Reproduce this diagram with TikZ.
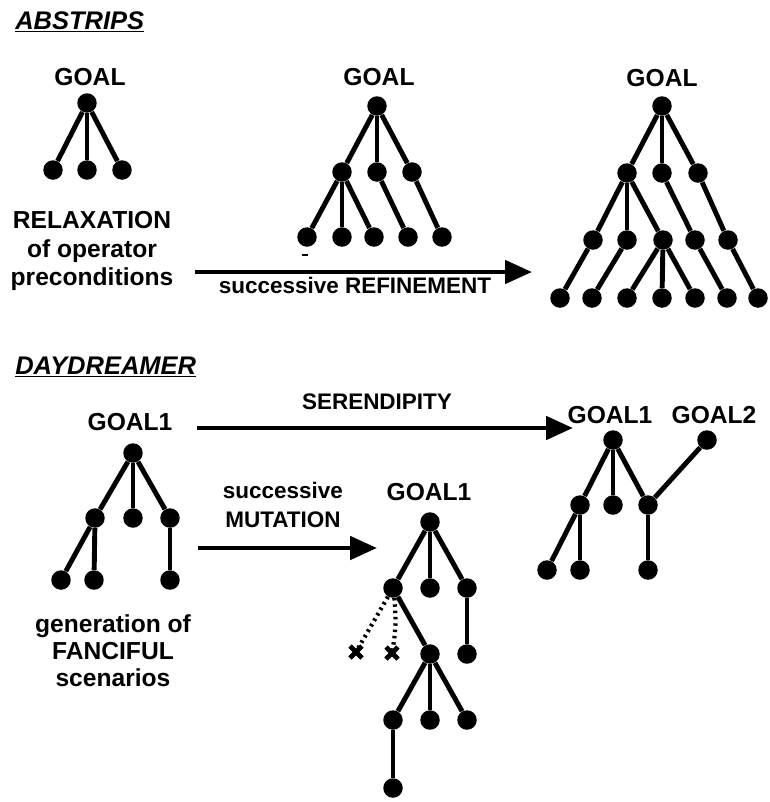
\documentclass[tikz,border=0pt]{standalone}
\usepackage{fontspec}
\setmainfont{Liberation Sans}
\usetikzlibrary{arrows.meta, calc}

\begin{document}
\begin{tikzpicture}[x=0.02cm, y=-0.02cm,
  vertex/.style={circle, fill=black, inner sep=0pt, minimum size=0.39cm},
  link/.style={line width=2.8pt},
  arrow/.style={line width=2.8pt, -{Triangle[length=0.54cm, width=0.46cm]}},
  dream/.style={line width=2.4pt, dash pattern=on 1.4pt off 2.2pt},
  goal/.style={font=\fontsize{14}{16}\selectfont\bfseries, inner sep=0pt},
  caption/.style={align=center, inner sep=0pt},
  title/.style={anchor=west, inner sep=0pt, font=\fontsize{14.5}{17}\selectfont\bfseries\itshape}
]
  \useasboundingbox (0,0) rectangle (770,802);

  % ABSTRIPS
  \node[title] (abstrips) at (15,22) {\underline{ABSTRIPS}};

  % Relaxed tree
  \node[goal] (agoal) at (90,77) {GOAL};
  \node[vertex] (a0) at (87,103) {};
  \node[vertex] (a1) at (53,170) {};
  \node[vertex] (a2) at (87,170) {};
  \node[vertex] (a3) at (122,170) {};
  \draw[link] (a0) -- (a1);
  \draw[link] (a0) -- (a2);
  \draw[link] (a0) -- (a3);
  \node[caption, font=\fontsize{14}{16.2}\selectfont\bfseries] (relax) at (92,251)
    {RELAXATION\\of operator\\preconditions};

  % Refined tree
  \node[goal] (bgoal) at (379,77) {GOAL};
  \node[vertex] (b0) at (377,106) {};
  \node[vertex] (b1) at (342,172) {};
  \node[vertex] (b2) at (377,172) {};
  \node[vertex] (b3) at (412,172) {};
  \node[vertex] (b4) at (307,237) {};
  \node[vertex] (b5) at (342,237) {};
  \node[vertex] (b6) at (374,237) {};
  \node[vertex] (b7) at (408,237) {};
  \node[vertex] (b8) at (442,237) {};
  \draw[link] (b0) -- (b1);
  \draw[link] (b0) -- (b2);
  \draw[link] (b0) -- (b3);
  \draw[link] (b1) -- (b4);
  \draw[link] (b1) -- (b5);
  \draw[link] (b1) -- (b6);
  \draw[link] (b2) -- (b7);
  \draw[link] (b3) -- (b8);
  \draw[line width=1pt] (302,255) -- (308,255);

  % Full tree
  \node[goal] (cgoal) at (662,78) {GOAL};
  \node[vertex] (c0) at (662,106) {};
  \node[vertex] (c1) at (627,173) {};
  \node[vertex] (c2) at (662,173) {};
  \node[vertex] (c3) at (698,173) {};
  \node[vertex] (c4) at (593,240) {};
  \node[vertex] (c5) at (627,240) {};
  \node[vertex] (c6) at (663,240) {};
  \node[vertex] (c7) at (695,240) {};
  \node[vertex] (c8) at (728,240) {};
  \node[vertex] (c9) at (560,298) {};
  \node[vertex] (c10) at (592,298) {};
  \node[vertex] (c11) at (627,298) {};
  \node[vertex] (c12) at (662,298) {};
  \node[vertex] (c13) at (695,298) {};
  \node[vertex] (c14) at (727,298) {};
  \node[vertex] (c15) at (758,298) {};
  \draw[link] (c0) -- (c1);
  \draw[link] (c0) -- (c2);
  \draw[link] (c0) -- (c3);
  \draw[link] (c1) -- (c4);
  \draw[link] (c1) -- (c5);
  \draw[link] (c1) -- (c6);
  \draw[link] (c2) -- (c7);
  \draw[link] (c3) -- (c8);
  \draw[link] (c4) -- (c9);
  \draw[link] (c5) -- (c10);
  \draw[link] (c6) -- (c11);
  \draw[link] (c6) -- (c12);
  \draw[link] (c6) -- (c13);
  \draw[link] (c7) -- (c14);
  \draw[link] (c8) -- (c15);

  % Refinement arrow
  \coordinate (r0) at (195,272);
  \coordinate (r1) at (532,272);
  \draw[arrow] (r0) -- (r1);
  \node[caption, font=\fontsize{12.8}{15}\selectfont\bfseries] (refine) at (355,285) {successive REFINEMENT};

  % DAYDREAMER
  \node[title] (daydreamer) at (15,367) {\underline{DAYDREAMER}};

  % Fanciful tree
  \node[goal] (dgoal) at (130,422) {GOAL1};
  \node[vertex] (d0) at (133,453) {};
  \node[vertex] (d1) at (95,518) {};
  \node[vertex] (d2) at (133,518) {};
  \node[vertex] (d3) at (170,518) {};
  \node[vertex] (d4) at (61,580) {};
  \node[vertex] (d5) at (94,580) {};
  \node[vertex] (d6) at (170,580) {};
  \draw[link] (d0) -- (d1);
  \draw[link] (d0) -- (d2);
  \draw[link] (d0) -- (d3);
  \draw[link] (d1) -- (d4);
  \draw[link] (d1) -- (d5);
  \draw[link] (d3) -- (d6);
  \node[caption, font=\fontsize{14}{15.3}\selectfont\bfseries] (fanciful) at (113,651)
    {generation of\\FANCIFUL\\scenarios};

  % Serendipity arrow
  \coordinate (s0) at (197,428);
  \coordinate (s1) at (573,428);
  \draw[arrow] (s0) -- (s1);
  \node[caption, font=\fontsize{12.8}{15}\selectfont\bfseries] (serendipity) at (377,402) {SERENDIPITY};

  % Mutation arrow
  \coordinate (m0) at (198,548);
  \coordinate (m1) at (377,548);
  \draw[arrow] (m0) -- (m1);
  \node[caption, font=\fontsize{12.8}{17}\selectfont\bfseries] (mutation) at (283,505) {successive\\MUTATION};

  % Mutated tree
  \node[goal] (egoal) at (429,492) {GOAL1};
  \node[vertex] (e0) at (430,522) {};
  \node[vertex] (e1) at (393,588) {};
  \node[vertex] (e2) at (430,588) {};
  \node[vertex] (e3) at (467,588) {};
  \node[vertex] (e4) at (430,654) {};
  \node[vertex] (e5) at (467,654) {};
  \node[vertex] (e6) at (393,720) {};
  \node[vertex] (e7) at (430,720) {};
  \node[vertex] (e8) at (467,720) {};
  \node[vertex] (e9) at (393,788) {};
  \draw[link] (e0) -- (e1);
  \draw[link] (e0) -- (e2);
  \draw[link] (e0) -- (e3);
  \draw[link] (e1) -- (e4);
  \draw[link] (e3) -- (e5);
  \draw[link] (e4) -- (e6);
  \draw[link] (e4) -- (e7);
  \draw[link] (e4) -- (e8);
  \draw[link] (e6) -- (e9);

  % Abandoned branches
  \coordinate (x1) at (356,652);
  \coordinate (x2) at (392,653);
  \draw[dream] (e1) -- (x1);
  \draw[dream] (e1) to[bend left=8] (x2);
  \foreach \x in {x1, x2} {
    \draw[line width=2.8pt] ($(\x)+(-6,-6)$) -- ($(\x)+(6,6)$);
    \draw[line width=2.8pt] ($(\x)+(-6,6)$) -- ($(\x)+(6,-6)$);
  }

  % Serendipitous tree
  \node[goal] (fgoal) at (610,415) {GOAL1};
  \node[goal] (ggoal) at (714,415) {GOAL2};
  \node[vertex] (f0) at (613,440) {};
  \node[vertex] (g0) at (707,440) {};
  \node[vertex] (f1) at (580,505) {};
  \node[vertex] (f2) at (613,505) {};
  \node[vertex] (f3) at (648,505) {};
  \node[vertex] (f4) at (547,570) {};
  \node[vertex] (f5) at (580,570) {};
  \node[vertex] (f6) at (648,570) {};
  \draw[link] (f0) -- (f1);
  \draw[link] (f0) -- (f2);
  \draw[link] (f0) -- (f3);
  \draw[link] (g0) -- (f3);
  \draw[link] (f1) -- (f4);
  \draw[link] (f1) -- (f5);
  \draw[link] (f3) -- (f6);
\end{tikzpicture}
\end{document}
